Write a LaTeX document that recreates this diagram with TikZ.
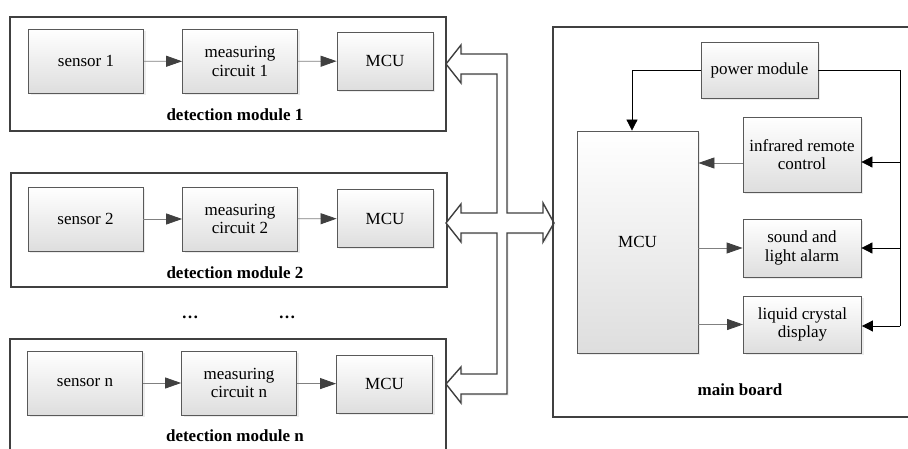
\documentclass[tikz,border=0pt]{standalone}
\usepackage{fontspec}
\setmainfont{Liberation Serif}
\usetikzlibrary{arrows.meta,shadows}

\begin{document}
\begin{tikzpicture}[x=1pt, y=-1pt,
    every node/.style={font=\fontsize{17}{18.5}\selectfont},
    block/.style={draw=black!65, line width=0.8pt, top color=white, bottom color=black!13,
        align=center, inner sep=0pt,
        drop shadow={shadow xshift=2pt, shadow yshift=-2pt, opacity=0.15}},
    sbox/.style={block, minimum width=115pt, minimum height=64pt},
    mbox/.style={block, minimum width=96pt, minimum height=58pt},
    rbox/.style={block, minimum width=118pt, minimum height=58pt},
    module/.style={draw=black!75, line width=1.6pt, inner sep=0pt, minimum width=436pt, minimum height=114pt},
    modname/.style={font=\fontsize{17}{18.5}\selectfont\bfseries},
    flow/.style={draw=black!50, line width=0.8pt, -{Triangle[length=16pt, width=11pt, color=black!75]}},
    feed/.style={draw=black, line width=0.8pt, -{Triangle[length=11pt, width=11pt]}},
    bus/.style={draw=black!75, line width=1.4pt, fill=white, line join=miter,
        drop shadow={shadow xshift=1.5pt, shadow yshift=-1.5pt, opacity=0.15}}]
    \useasboundingbox (0,0) rectangle (908,449);

    % Detection module 1
    \node[module] (det1) at (228,74) {};
    \node[sbox] (sensor1) at (86,61) {sensor 1};
    \node[sbox] (meas1) at (240,61.5) {measuring\\circuit 1};
    \node[mbox] (mcu1) at (385,61) {MCU};
    \node[modname] (det1name) at (235,115) {detection module 1};

    % Detection module 2
    \node[module] (det2) at (229,230) {};
    \node[sbox] (sensor2) at (85.5,219) {sensor 2};
    \node[sbox] (meas2) at (240,219) {measuring\\circuit 2};
    \node[mbox] (mcu2) at (385,218.5) {MCU};
    \node[modname] (det2name) at (235,273) {detection module 2};

    % Dots
    \node[modname, anchor=base] (dots1) at (190,318) {\ldots};
    \node[modname, anchor=base] (dots2) at (287,318) {\ldots};

    % Detection module n
    \node[module] (detn) at (228,396) {};
    \node[sbox] (sensorn) at (85,383) {sensor n};
    \node[sbox] (measn) at (239,383) {measuring\\circuit n};
    \node[mbox] (mcun) at (384.5,384) {MCU};
    \node[modname] (detnname) at (235,436) {detection module n};

    % Module arrows
    \draw[flow] (sensor1) -- (meas1);
    \draw[flow] (meas1) -- (mcu1);
    \draw[flow] (sensor2) -- (meas2);
    \draw[flow] (meas2) -- (mcu2);
    \draw[flow] (sensorn) -- (measn);
    \draw[flow] (measn) -- (mcun);

    % Bus
    \draw[bus] (446,64) -- (461,45) -- (461,54) -- (507,54) -- (507,213) -- (543,213) -- (543,203)
        -- (554,223) -- (543,242) -- (543,233) -- (507,233) -- (507,394) -- (461,394) -- (461,403)
        -- (446,384) -- (461,367) -- (461,374) -- (497,374) -- (497,233) -- (461,233) -- (461,242)
        -- (446,223) -- (461,204) -- (461,213) -- (497,213) -- (497,74) -- (461,74) -- (461,83) -- cycle;

    % Main board
    \node[module, line width=1.4pt, minimum width=357pt, minimum height=390pt] (board) at (731.5,222) {};
    \node[block, minimum width=117pt, minimum height=56pt] (power) at (759.5,70) {power module};
    \node[block, minimum width=118pt, minimum height=75pt] (infrared) at (802,154.5) {infrared remote\\control};
    \node[block, minimum width=121pt, minimum height=222pt] (mcu) at (637.5,242) {MCU};
    \node[rbox] (alarm) at (802,248) {sound and\\light alarm};
    \node[rbox, minimum height=57pt] (lcd) at (802.5,324.5) {liquid crystal\\display};
    \node[modname] (boardname) at (740,390) {main board};

    % Power lines
    \coordinate (feedtop) at (900,70);
    \coordinate (feedbot) at (900,326);
    \draw[feed] (power.west) -| ([xshift=-5.5pt]mcu.north);
    \draw[feed, -] (power.east) -- (feedtop) -- (feedbot);
    \draw[feed] (feedtop |- 0,162) -- (infrared.east |- 0,162);
    \draw[feed] (feedtop |- alarm.east) -- (alarm.east);
    \draw[feed] (feedbot) -- (feedbot -| lcd.east);

    % MCU lines
    \draw[flow] (infrared.west |- 0,163) -- (mcu.east |- 0,163);
    \draw[flow] (mcu.east |- alarm.west) -- (alarm.west);
    \draw[flow] (mcu.east |- lcd.west) -- (lcd.west);
\end{tikzpicture}
\end{document}
